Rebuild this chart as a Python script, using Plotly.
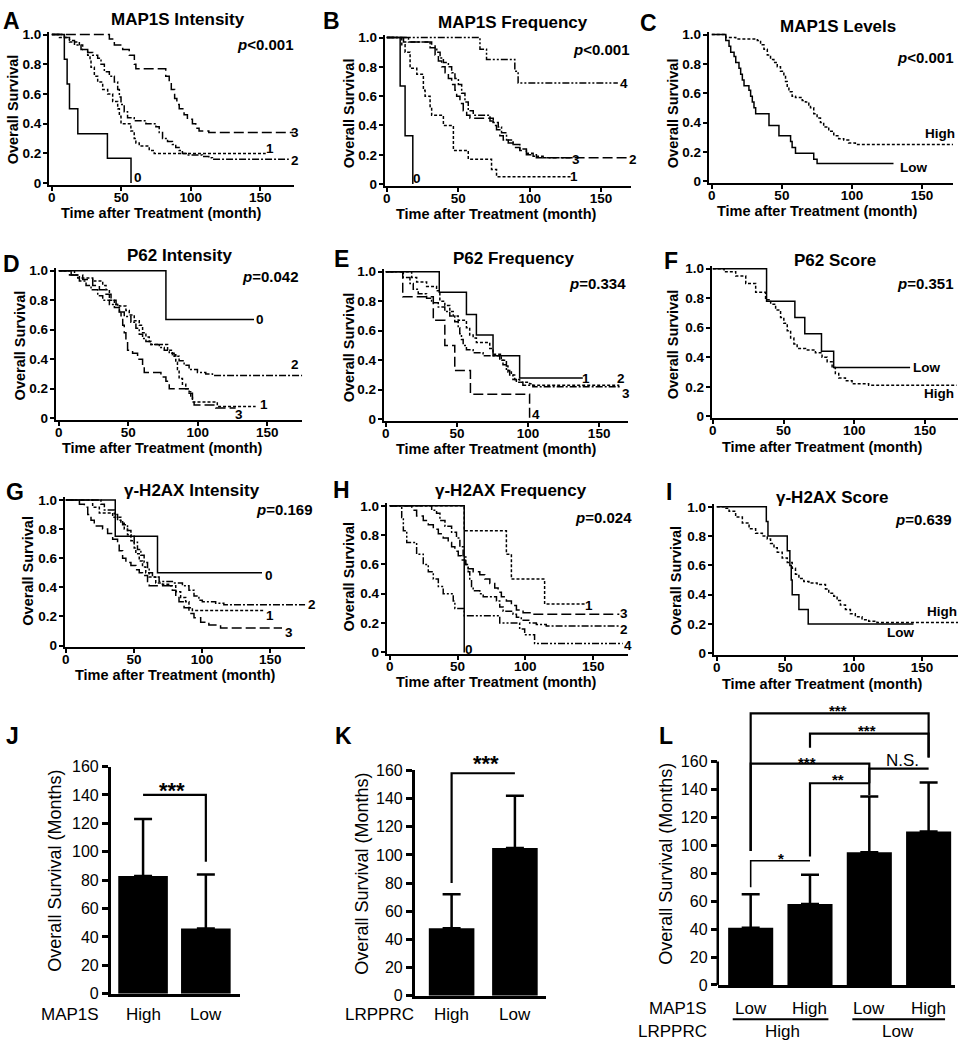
import plotly.graph_objects as go

W, H = 960, 1050
FONT = "Liberation Sans, Arial, sans-serif"
INK = "#000000"

# ---------------- Kaplan-Meier step curves (months, survival) ----------------
# A  MAP1S intensity
a0_t = [0, 9, 11, 12.7, 18.7, 40, 57]
a0_s = [1, 0.833, 0.667, 0.5, 0.333, 0.167, 0]
a1_t = [0, 5.5, 12.7, 19.8, 22.2, 25.8, 27.5, 28.2, 30.6, 33, 36.6, 40.2, 43.8, 47.4, 48.6, 49.8, 56.9, 59.3, 60.5, 62.9, 70.1, 73.7, 154]
a1_s = [1, .98, .95, .93, .9, .86, .83, .78, .72, .68, .63, .6, .55, .5, .45, .4, .35, .3, .27, .25, .22, .2, .2]
a2_t = [0, 9, 12.7, 16.3, 21, 25.8, 29.4, 33, 35.4, 37.8, 41.4, 45, 47.4, 48.6, 49.8, 52.1, 54.5, 59.3, 67.7, 74.9, 77.3, 79.7, 83.3, 86.8, 89.2, 91.6, 94, 97.6, 108.4, 113, 115.6, 170.6]
a2_s = [1, .98, .96, .93, .9, .88, .86, .84, .8, .75, .72, .68, .63, .58, .53, .48, .44, .42, .4, .38, .34, .3, .28, .26, .24, .22, .2, .19, .18, .17, .16, .16]
a3_t = [0, 41.4, 45, 51, 55.7, 59.4, 60.5, 82, 84.5, 86, 88.4, 90, 91.7, 95.2, 97.6, 101.2, 103.6, 106, 113, 174]
a3_s = [1, .97, .93, .9, .86, .8, .77, .72, .68, .63, .57, .53, .5, .46, .43, .4, .37, .35, .34, .34]

# B  MAP1S frequency
b0_t = [0, 9.35, 12.8, 18.2]
b0_s = [1, .67, .33, 0]
b1_t = [0, 10.5, 12.8, 16.3, 21, 25.6, 26.8, 30.3, 31.4, 39.6, 46.6, 57, 73.3, 76.8, 129]
b1_s = [1, .95, .9, .79, .75, .64, .6, .53, .47, .4, .23, .17, .1, .05, .05]
b2_t = [0, 11.7, 31.4, 33.8, 36.1, 38.4, 40.8, 43.1, 45.4, 47.7, 48.9, 51.2, 53.5, 55.9, 58.2, 72.2, 74.5, 76.8, 79.1, 81.5, 85, 88.4, 93.1, 97.7, 104.7, 168.7]
b2_s = [1, .97, .95, .88, .84, .8, .76, .72, .68, .64, .6, .55, .5, .47, .45, .43, .4, .37, .33, .3, .28, .25, .23, .2, .18, .18]
b3_t = [0, 15.2, 30.3, 35, 37.3, 39.6, 43.1, 45.4, 47.7, 50.1, 52.4, 54.7, 57, 60.5, 72.2, 74.5, 78, 80.3, 83.8, 88.4, 93.1, 97.7, 102.4, 109.4, 130.3]
b3_s = [1, .97, .93, .9, .86, .83, .8, .76, .72, .68, .62, .56, .5, .47, .45, .42, .39, .35, .3, .27, .24, .21, .19, .18, .18]
b4_t = [0, 65.2, 69.8, 89.6, 91.9, 161.7]
b4_s = [1, .92, .85, .77, .69, .69]

# C  MAP1S levels
c_low_t = [0, 10, 12.3, 13.5, 15.9, 17.1, 19.4, 20.6, 21.8, 23, 26.5, 27.7, 28.9, 30.1, 31.3, 40.8, 47.9, 56.2, 57.3, 59.7, 72.7, 75.1, 129.6]
c_low_s = [1, .96, .92, .88, .85, .81, .77, .73, .69, .65, .62, .58, .54, .5, .46, .38, .31, .27, .23, .19, .15, .12, .12]
c_high_t = [0, 10, 17.1, 32.5, 34.8, 37.2, 39.6, 41.9, 44.3, 46.7, 49, 51.4, 52.6, 53.8, 55, 57.3, 59.7, 64.5, 66.8, 69.2, 70.4, 72.7, 75.1, 77.5, 79.8, 83.4, 87, 90.5, 94.1, 97.6, 102.4, 172]
c_high_s = [1, .98, .97, .96, .93, .9, .86, .83, .81, .78, .75, .72, .68, .64, .61, .58, .57, .55, .54, .52, .5, .46, .43, .4, .37, .34, .31, .29, .28, .26, .25, .25]

# D  P62 intensity
d0_t = [0, 77.1, 140.5]
d0_s = [1, .67, .67]
d1_t = [0, 11.3, 13.6, 24.4, 31.6, 34, 36.4, 40, 43.6, 48.3, 50.7, 54.3, 57.9, 60.3, 62.7, 65.1, 66.3, 78.3, 81.8, 84.2, 85.4, 86.6, 89, 91.4, 93.8, 95, 96.2, 114.1, 141.7]
d1_s = [1, .97, .95, .93, .9, .87, .8, .77, .76, .73, .7, .66, .63, .58, .55, .52, .5, .46, .43, .38, .33, .27, .23, .2, .18, .14, .11, .08, .08]
d2_t = [0, 8.9, 14.8, 19.6, 23.2, 28, 31.6, 36.4, 40, 43.6, 47.1, 51.9, 55.5, 57.9, 60.3, 62.7, 66.3, 72.3, 75.9, 79.5, 83, 86.6, 90.2, 93.8, 99.8, 105.8, 110.6, 176]
d2_s = [1, .97, .93, .9, .87, .83, .8, .77, .75, .72, .69, .65, .61, .57, .54, .52, .5, .48, .46, .44, .42, .39, .36, .33, .31, .3, .29, .29]
d3_t = [0, 7.7, 17.2, 24.4, 29.2, 34, 37.6, 41.2, 42.4, 43.6, 44.8, 46, 47.1, 48.3, 49.5, 53.1, 56.7, 60.3, 61.5, 73.5, 77.1, 79.5, 93.8, 96.2, 97.4, 113, 127.3]
d3_s = [1, .97, .94, .9, .87, .84, .8, .77, .74, .72, .68, .63, .58, .52, .46, .44, .4, .36, .31, .28, .25, .2, .17, .13, .09, .07, .07]

# E  P62 frequency
e1_t = [0, 37.6, 56.7, 63.7, 75.4, 94.1, 138.5]
e1_s = [1, .86, .71, .57, .43, .28, .28]
e2_t = [0, 18.2, 21.7, 28.7, 35.7, 38, 41.5, 45, 47.4, 50.9, 56.7, 59, 61.4, 63.7, 73.1, 75.4, 81.2, 84.8, 85.9, 88.3, 90.6, 94.1, 101.1, 103.4, 164.2]
e2_s = [1, .96, .93, .9, .87, .8, .77, .73, .7, .67, .62, .57, .55, .52, .48, .44, .4, .36, .32, .3, .27, .25, .24, .23, .23]
e3_t = [0, 12.3, 17, 19.3, 22.8, 28.7, 32.2, 36.9, 41.5, 45, 48.5, 50.9, 52, 53.2, 54.4, 56.7, 61.4, 68.4, 80.1, 82.4, 84.8, 87.1, 89.4, 91.8, 96.4, 103.4, 165.3]
e3_s = [1, .96, .92, .88, .85, .82, .79, .76, .73, .7, .66, .62, .58, .54, .5, .47, .45, .43, .4, .37, .33, .3, .27, .25, .23, .22, .22]
e4_t = [0, 11.9, 33.4, 41.5, 48.5, 59.5, 101.1]
e4_s = [1, .83, .67, .5, .33, .17, 0]

# F  P62 score
f_low_t = [0, 38, 58, 65, 76.8, 85.4, 139.4]
f_low_s = [1, .78, .67, .56, .44, .33, .33]
f_high_t = [0, 8, 16.2, 23.3, 30.3, 37.3, 40.9, 44.4, 47.9, 50.2, 52.6, 55, 57.3, 59.6, 65.5, 72.5, 77.2, 80.8, 84.3, 86.6, 89, 93.7, 98.4, 110.1, 172.3]
f_high_s = [1, .98, .95, .9, .84, .79, .76, .72, .67, .63, .58, .53, .49, .46, .45, .43, .4, .37, .33, .29, .26, .24, .22, .21, .21]

# G  gamma-H2AX intensity
g0_t = [0, 36.3, 67.3, 144]
g0_s = [1, .75, .5, .5]
g1_t = [0, 19.7, 24.6, 34.4, 40.4, 42.9, 45.3, 47.8, 50.2, 51.4, 53.9, 56.3, 58.7, 61.2, 66, 70.9, 77, 80.7, 84.3, 88, 90.4, 92.9, 145.3]
g1_s = [1, .95, .91, .88, .84, .8, .76, .72, .67, .63, .58, .54, .5, .47, .43, .42, .41, .37, .33, .3, .26, .24, .24]
g2_t = [0, 25.8, 28.3, 35.6, 38, 41.7, 45.3, 47.8, 50.2, 52.6, 55.1, 57.5, 60, 61.2, 63.6, 68.5, 78.2, 85.6, 90.4, 94.1, 97.7, 100.2, 110, 116, 177]
g2_s = [1, .97, .93, .9, .86, .83, .79, .75, .71, .66, .62, .57, .53, .5, .47, .44, .43, .41, .38, .34, .31, .3, .29, .28, .28]
g3_t = [0, 10, 13.6, 16.1, 18.5, 20.9, 27, 30.7, 34.4, 38, 39.2, 41.7, 44.1, 47.8, 51.4, 53.9, 56.3, 60, 61.2, 78.2, 80.7, 83.1, 86.8, 90.4, 94.1, 99, 105, 113.6, 158.7]
g3_s = [1, .97, .95, .9, .86, .82, .8, .77, .73, .7, .65, .6, .57, .55, .52, .5, .48, .44, .41, .38, .34, .3, .26, .22, .19, .16, .14, .12, .12]

# H  gamma-H2AX frequency
h0_t = [0, 54.9]
h0_s = [1, 0]
h1_t = [0, 54.9, 86, 89.7, 114.2, 144.8]
h1_s = [1, .83, .67, .5, .33, .33]
h2_t = [0, 30.9, 34.5, 37, 40.7, 45.6, 49.2, 51.7, 54.1, 56.1, 57.8, 59, 60.3, 61.5, 66.4, 68.9, 78.7, 81.1, 83.6, 90.9, 93.4, 97, 103.2, 108.1, 115.4, 169.3]
h2_s = [1, .97, .95, .9, .86, .82, .78, .72, .65, .6, .55, .5, .45, .42, .4, .38, .35, .31, .28, .26, .24, .22, .2, .19, .18, .18]
h3_t = [0, 16.2, 19.8, 24.7, 28.4, 32.1, 35.8, 39.4, 43.1, 45.6, 48, 50.5, 52.9, 55.4, 57.8, 61.5, 66.4, 70.1, 73.8, 77.4, 79.9, 82.3, 86, 89.7, 93.4, 98.3, 105.6, 169.3]
h3_s = [1, .97, .93, .9, .87, .84, .81, .78, .75, .72, .69, .66, .63, .6, .57, .55, .53, .5, .47, .44, .41, .38, .35, .32, .29, .27, .26, .26]
h4_t = [0, 8.8, 10, 12.5, 19.8, 24.7, 28.4, 32.1, 35.8, 39.4, 46.8, 48, 54.9, 81.1, 95.8, 99.5, 106.8, 171.8]
h4_s = [1, .92, .83, .75, .67, .6, .55, .5, .45, .4, .35, .3, .25, .2, .16, .12, .06, .06]

# I  gamma-H2AX score
i_low_t = [0, 36.2, 37.4, 51.5, 53.4, 54.4, 55.1, 60, 66.8, 143.7]
i_low_s = [1, .9, .8, .7, .6, .5, .4, .3, .2, .2]
i_high_t = [0, 5.3, 9, 13.8, 18.7, 23.6, 28.4, 33.3, 36.9, 39.3, 41.8, 44.2, 47.8, 51.5, 55.1, 57.5, 60, 63.6, 67.3, 73.3, 79.4, 81.8, 85.5, 87.9, 90.3, 94, 97.6, 101.2, 106.1, 111, 117, 177.7]
i_high_s = [1, .99, .97, .93, .89, .85, .82, .8, .78, .75, .72, .69, .65, .62, .58, .54, .51, .49, .48, .47, .44, .41, .39, .36, .33, .3, .27, .25, .23, .22, .21, .21]

# ---------------- bar panels (mean, upper SD) ----------------
j_groups = ["High", "Low"]
j_mean = [83, 46]
j_sd = [40, 38]
k_groups = ["High", "Low"]
k_mean = [48, 105]
k_sd = [24, 37]
l_map1s = ["Low", "High", "Low", "High"]
l_lrpprc = ["High", "Low"]
l_mean = [41, 58, 95, 110]
l_sd = [24, 21, 40, 35]

# significance brackets: label, left bar, right bar, height, left leg end, right leg end
j_brackets = [("***", 0, 1, 140, 140, 93)]
k_brackets = [("***", 0, 1, 158, 80, 158)]
l_brackets = [
    ("*", 0, 1, 89, 70, 89),
    ("**", 1, 2, 144.5, 92, 144.5),
    ("***", 0, 2, 158.5, 96, 144.5),
    ("N.S.", 2, 3, 155, 136, 155),
    ("***", 1, 3, 180, 170, 163),
    ("***", 0, 3, 194.5, 96, 163),
]

DASH = {
    "solid": "solid",
    "short": "3px,2px",
    "long": "10px,4px",
    "dashdot": "7px,2px,2px,2px",
    "dashdotdot": "7px,2px,2px,2px,2px,2px",
}


def px(x):
    return x / W


def py(y):
    return 1 - y / H


def names(i):
    s = "" if i == 1 else str(i)
    return "x" + s, "y" + s, "xaxis" + s, "yaxis" + s


annotations = []
shapes = []
layout = {}


def text(x, y, s, size, bold=True, xanchor="center", angle=0, xref="paper"):
    annotations.append(dict(
        x=x if xref != "paper" else px(x), y=py(y), xref=xref, yref="paper",
        text=s, showarrow=False, xanchor=xanchor, yanchor="middle", textangle=angle,
        font=dict(family=FONT, size=size, color=INK, weight="bold" if bold else "normal"),
    ))


fig = go.Figure()

km_panels = [
    dict(letter="A", lpos=(9, 13), title="MAP1S Intensity", tpos=(176, 12),
         p="<i>p</i>&lt;0.001", ppos=(293, 37),
         x0=49, k=209 / 150, xl=46, xr=292, y0=178, y1=27, yt=24,
         ytitle=(10, 103), xtitle=(159, 208),
         curves=[(a0_t, a0_s, "solid"), (a1_t, a1_s, "short"), (a2_t, a2_s, "dashdot"), (a3_t, a3_s, "long")],
         ends=[("3", 293, 127), ("1", 268, 143), ("2", 293, 155), ("0", 135, 172)]),
    dict(letter="B", lpos=(330, 13), title="MAP1S Frequency", tpos=(512, 15),
         p="<i>p</i>&lt;0.001", ppos=(630, 42),
         x0=385, k=215 / 150, xl=383, xr=630, y0=179, y1=30, yt=27,
         ytitle=(347, 107), xtitle=(495, 209),
         curves=[(b0_t, b0_s, "solid"), (b1_t, b1_s, "short"), (b2_t, b2_s, "long"), (b3_t, b3_s, "dashdot"), (b4_t, b4_s, "dashdotdot")],
         ends=[("4", 623, 77), ("3", 575, 154), ("2", 632, 154), ("1", 573, 171), ("0", 415, 173)]),
    dict(letter="C", lpos=(648, 15), title="MAP1S Levels", tpos=(838, 19),
         p="<i>p</i>&lt;0.001", ppos=(955, 50),
         x0=711, k=211 / 150, xl=708, xr=953, y0=176, y1=27, yt=24,
         ytitle=(672, 107), xtitle=(817, 206),
         curves=[(c_low_t, c_low_s, "solid"), (c_high_t, c_high_s, "short")],
         ends=[("High", 940, 128), ("Low", 913, 162)]),
    dict(letter="D", lpos=(9, 260), title="P62 Intensity", tpos=(177, 252),
         p="<i>p</i>=0.042", ppos=(298, 273),
         x0=56, k=209 / 150, xl=53, xr=300, y0=417, y1=267, yt=264,
         ytitle=(17, 343), xtitle=(160, 447),
         curves=[(d0_t, d0_s, "solid"), (d1_t, d1_s, "short"), (d2_t, d2_s, "dashdot"), (d3_t, d3_s, "long")],
         ends=[("0", 258, 317), ("2", 293, 362), ("1", 262, 403), ("3", 237, 413)]),
    dict(letter="E", lpos=(340, 255), title="P62 Frequency", tpos=(512, 255),
         p="<i>p</i>=0.334", ppos=(627, 280),
         x0=384, k=214 / 150, xl=382, xr=627, y0=418, y1=268, yt=265,
         ytitle=(347, 345), xtitle=(495, 448),
         curves=[(e1_t, e1_s, "solid"), (e2_t, e2_s, "short"), (e3_t, e3_s, "dashdot"), (e4_t, e4_s, "long")],
         ends=[("1", 585, 377), ("2", 620, 377), ("3", 625, 392), ("4", 535, 413)]),
    dict(letter="F", lpos=(670, 257), title="P62 Score", tpos=(835, 257),
         p="<i>p</i>=0.351", ppos=(955, 280),
         x0=712, k=213 / 150, xl=711, xr=958, y0=415, y1=265, yt=262,
         ytitle=(673, 342), xtitle=(822, 446),
         curves=[(f_low_t, f_low_s, "solid"), (f_high_t, f_high_s, "short")],
         ends=[("Low", 926, 365), ("High", 939, 392)]),
    dict(letter="G", lpos=(12, 492), title="γ-H2AX Intensity", tpos=(190, 490),
         p="<i>p</i>=0.169", ppos=(312, 510),
         x0=63, k=205 / 150, xl=62, xr=303, y0=648, y1=500, yt=497,
         ytitle=(25, 572), xtitle=(173, 678),
         curves=[(g0_t, g0_s, "solid"), (g1_t, g1_s, "short"), (g2_t, g2_s, "dashdot"), (g3_t, g3_s, "long")],
         ends=[("0", 267, 577), ("2", 310, 606), ("1", 268, 617), ("3", 287, 635)]),
    dict(letter="H", lpos=(340, 490), title="γ-H2AX Frequency", tpos=(510, 490),
         p="<i>p</i>=0.024", ppos=(633, 518),
         x0=388, k=204 / 150, xl=385, xr=627, y0=655, y1=506, yt=503,
         ytitle=(347, 578), xtitle=(495, 685),
         curves=[(h0_t, h0_s, "solid"), (h1_t, h1_s, "short"), (h2_t, h2_s, "dashdot"), (h3_t, h3_s, "long"), (h4_t, h4_s, "dashdotdot")],
         ends=[("1", 588, 607), ("3", 623, 615), ("2", 623, 632), ("4", 627, 648), ("0", 467, 652)]),
    dict(letter="I", lpos=(668, 492), title="γ-H2AX Score", tpos=(832, 498),
         p="<i>p</i>=0.639", ppos=(953, 520),
         x0=716, k=206 / 150, xl=713, xr=958, y0=656, y1=507, yt=504,
         ytitle=(675, 582), xtitle=(822, 687),
         curves=[(i_low_t, i_low_s, "solid"), (i_high_t, i_high_s, "short")],
         ends=[("High", 942, 613), ("Low", 900, 635)]),
]

tick_bold = dict(family=FONT, size=13.5, color=INK, weight="bold")

for n, p in enumerate(km_panels, start=1):
    xn, yn, xa, ya = names(n)
    kk = p["y0"] - p["y1"]
    layout[xa] = dict(
        domain=[px(p["xl"]), px(p["xr"])],
        range=[(p["xl"] - p["x0"]) / p["k"], (p["xr"] - p["x0"]) / p["k"]],
        anchor=yn, showline=True, linecolor=INK, linewidth=2,
        ticks="outside", ticklen=4, tickwidth=2, tickcolor=INK,
        tickvals=[0, 50, 100, 150], tickfont=tick_bold, ticklabelstandoff=-5,
        showgrid=False, zeroline=False, fixedrange=True,
    )
    layout[ya] = dict(
        domain=[py(p["y0"] + 1.5), py(p["yt"])],
        range=[-1.5 / kk, (p["y0"] - p["yt"]) / kk],
        anchor=xn, showline=True, linecolor=INK, linewidth=2,
        ticks="outside", ticklen=4, tickwidth=2, tickcolor=INK,
        tickvals=[0, 0.2, 0.4, 0.6, 0.8, 1.0],
        ticktext=["0", "0.2", "0.4", "0.6", "0.8", "1.0"], tickfont=tick_bold,
        ticklabelstandoff=-1,
        showgrid=False, zeroline=False, fixedrange=True,
    )
    for t, s, style in p["curves"]:
        fig.add_trace(go.Scatter(
            x=t, y=s, mode="lines", xaxis=xn, yaxis=yn, hoverinfo="skip",
            line=dict(color=INK, width=1.5, dash=DASH[style], shape="hv"),
        ))
    text(*p["lpos"], p["letter"], 23)
    text(*p["tpos"], p["title"], 17)
    text(p["ppos"][0], p["ppos"][1], p["p"], 15, xanchor="right")
    text(*p["ytitle"], "Overall Survival", 14.5, angle=-90)
    text(*p["xtitle"], "Time after Treatment (month)", 14.5)
    for s, x, y in p["ends"]:
        text(x, y, s, 13.5)

# ---------------- bar panels ----------------
bar_panels = [
    dict(letter="J", lpos=(10, 740), xd=(108, 238), yd=(1002, 771), xr=[-0.516, 1.548], yr=[0, 160],
         width=0.79, mean=j_mean, sd=j_sd, cats=j_groups, brackets=j_brackets,
         star_pos=[(170, 795)], star_size=[22], ytitle=(52, 877), cat_y=1023,
         group=("MAP1S", 67, 1023, "center")),
    dict(letter="K", lpos=(342, 740), xd=(413, 545), yd=(1004, 775), xr=[-0.583, 1.496], yr=[0, 160],
         width=0.72, mean=k_mean, sd=k_sd, cats=k_groups, brackets=k_brackets,
         star_pos=[(485, 768)], star_size=[22], ytitle=(360, 880), cat_y=1023,
         group=("LRPPRC", 378, 1023, "center")),
    dict(letter="L", lpos=(665, 740), xd=(717, 955), yd=(993, 705), xr=[-0.555, 3.445], yr=[0, 203],
         width=0.76, mean=l_mean, sd=l_sd, cats=l_map1s, brackets=l_brackets,
         star_pos=[(780, 864), (838, 784), (807, 767), (902, 765), (867, 734), (838, 714)],
         star_size=[15, 15, 15, 17, 15, 15], ytitle=(665, 870), cat_y=1017,
         group=("MAP1S", 708, 1017, "right")),
]

for n, b in enumerate(bar_panels, start=10):
    xn, yn, xa, ya = names(n)
    xs = list(range(len(b["mean"])))
    layout[xa] = dict(
        domain=[px(b["xd"][0]), px(b["xd"][1])], range=b["xr"], anchor=yn,
        showline=True, linecolor=INK, linewidth=2.5, ticks="", showticklabels=False,
        showgrid=False, zeroline=False, fixedrange=True,
    )
    tall = b["yr"][1] > 160
    layout[ya] = dict(
        domain=[py(b["yd"][0]), py(b["yd"][1])], range=b["yr"], anchor=xn,
        showline=not tall, linecolor=INK, linewidth=2.5,
        ticks="outside", ticklen=6, tickwidth=2.5, tickcolor=INK,
        tickvals=list(range(0, 161, 20)),
        tickfont=dict(family=FONT, size=16, color=INK),
        showgrid=False, zeroline=False, fixedrange=True,
    )
    if tall:
        shapes.append(dict(type="line", xref="paper", yref=yn, x0=px(b["xd"][0]), x1=px(b["xd"][0]),
                           y0=0, y1=160, line=dict(color=INK, width=2.5)))
    fig.add_trace(go.Bar(
        x=xs, y=b["mean"], width=b["width"], xaxis=xn, yaxis=yn, hoverinfo="skip",
        marker=dict(color=INK, line=dict(width=0)),
        error_y=dict(type="data", symmetric=False, array=b["sd"], arrayminus=[0] * len(xs),
                     color=INK, thickness=2.5, width=9),
    ))
    for lab, xl_, xr_, yh, yl_end, yr_end in b["brackets"]:
        fig.add_trace(go.Scatter(
            x=[xl_, xl_, xr_, xr_], y=[yl_end, yh, yh, yr_end], mode="lines",
            xaxis=xn, yaxis=yn, hoverinfo="skip",
            line=dict(color=INK, width=2.2 if lab != "*" else 1.6),
        ))
    for (lab, *_), (sx, sy), sz in zip(b["brackets"], b["star_pos"], b["star_size"]):
        text(sx, sy, lab, sz, bold=(lab != "N.S."))
    for xi, c in zip(xs, b["cats"]):
        text(xi, b["cat_y"], c, 17, bold=False, xref=xn)
    g, gx, gy, ga = b["group"]
    text(gx, gy, g, 17, bold=False, xanchor=ga)
    text(*b["lpos"], b["letter"], 23)
    text(*b["ytitle"], "Overall Survival (Months)", 18, bold=False, angle=-90)

# second level of labels under panel L
text(708, 1040, "LRPPRC", 17, bold=False, xanchor="right")
text(782, 1040, l_lrpprc[0], 17, bold=False)
text(898, 1040, l_lrpprc[1], 17, bold=False)
for x0, x1 in [(732, 828), (852, 945)]:
    shapes.append(dict(type="line", xref="paper", yref="paper", x0=px(x0), x1=px(x1),
                       y0=py(1028), y1=py(1028), line=dict(color=INK, width=2)))

fig.update_layout(
    width=W, height=H, margin=dict(l=0, r=0, t=0, b=0),
    paper_bgcolor="white", plot_bgcolor="white", showlegend=False,
    annotations=annotations, shapes=shapes, **layout,
)

fig.write_html("out.html", config={"displayModeBar": False},
               post_script="document.body.style.margin='0px';")
